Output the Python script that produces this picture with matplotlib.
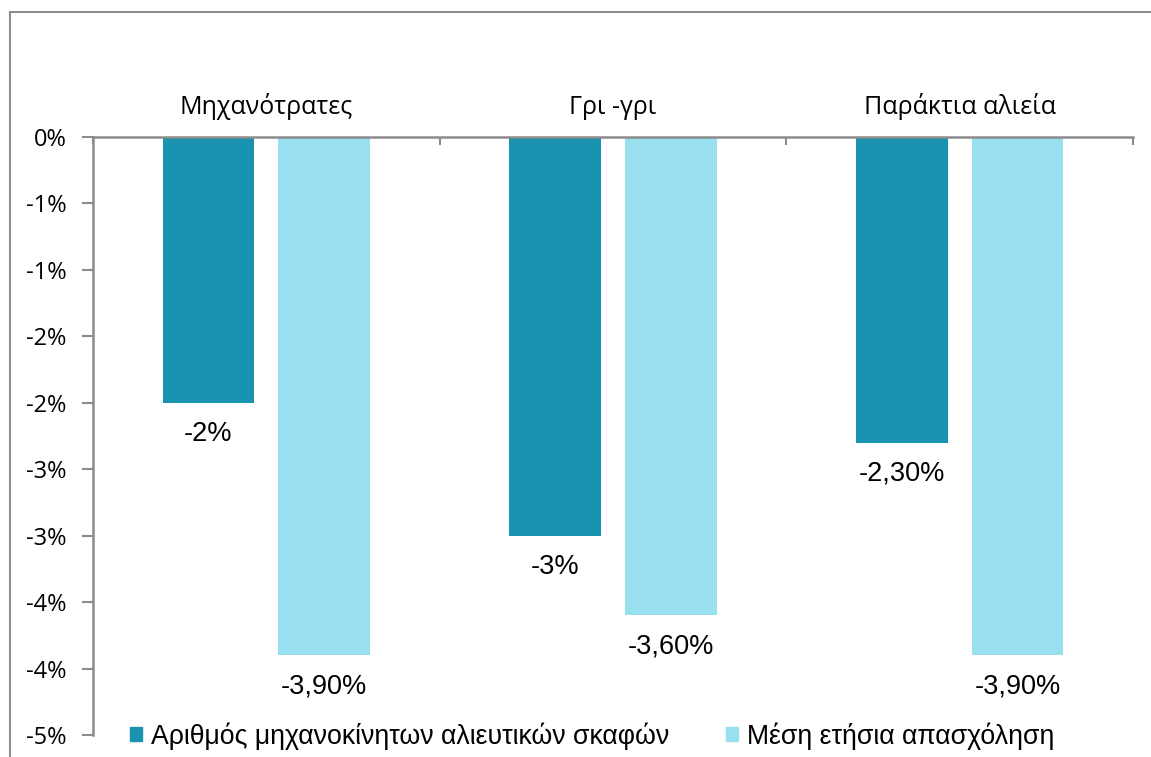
import matplotlib
matplotlib.use("Agg")
import matplotlib.pyplot as plt
import matplotlib.patches as mpatches
import numpy as np

categories = ["Μηχανότρατες", "Γρι -γρι", "Παράκτια αλιεία"]
series_names = ["Αριθμός μηχανοκίνητων αλιευτικών σκαφών", "Μέση ετήσια απασχόληση"]
vessels = [-2.0, -3.0, -2.3]
employment = [-3.9, -3.6, -3.9]
vessels_labels = ["-2%", "-3%", "-2,30%"]
employment_labels = ["-3,90%", "-3,60%", "-3,90%"]
yticks = [0, -0.5, -1.0, -1.5, -2.0, -2.5, -3.0, -3.5, -4.0, -4.5]
ytick_labels = ["0%", "-1%", "-1%", "-2%", "-2%", "-3%", "-3%", "-4%", "-4%", "-5%"]

c_dark = "#1a93b0"
c_light = "#98dff0"
axis_gray = "#8c8c8c"

fig = plt.figure(figsize=(11.51, 7.57), dpi=100)
W, H = 1151, 757
ax = fig.add_axes([93 / W, (H - 735) / H, 1040 / W, 598 / H])

x = np.arange(len(categories))
bw = 0.265
off = 0.167
b1 = ax.bar(x - off, vessels, bw, color=c_dark, zorder=2)
b2 = ax.bar(x + off, employment, bw, color=c_light, zorder=2)

lab_font = dict(family=["Liberation Sans", "DejaVu Sans"], size=19.5, color="black")
for rect, lab in zip(b1, vessels_labels):
    ax.annotate(lab, (rect.get_x() + rect.get_width() / 2, rect.get_height()),
                xytext=(0, -13), textcoords="offset points", ha="center", va="top", **lab_font)
for rect, lab in zip(b2, employment_labels):
    ax.annotate(lab, (rect.get_x() + rect.get_width() / 2, rect.get_height()),
                xytext=(0, -13), textcoords="offset points", ha="center", va="top", **lab_font)

ax.set_xlim(-0.5, 2.5)
ax.set_ylim(-4.5, 0)

# x axis at top (value 0)
ax.xaxis.set_ticks_position("top")
ax.set_xticks([-0.5, 0.5, 1.5, 2.5])
ax.set_xticklabels([])
ax.tick_params(axis="x", direction="in", length=6, width=1.5, color=axis_gray)
for i, cat in enumerate(categories):
    ax.annotate(cat, (i, 0), xytext=(0, 16.5), textcoords="offset points", ha="center",
                va="baseline", fontsize=18, family=["Open Sans", "DejaVu Sans"], color="black",
                annotation_clip=False)

ax.set_yticks(yticks)
ax.set_yticklabels(ytick_labels)
ax.tick_params(axis="y", direction="out", length=8, width=1.5, color=axis_gray, pad=11,
               labelsize=17)
for t in ax.get_yticklabels():
    t.set_family(["Open Sans", "DejaVu Sans"])

for s in ["bottom", "right"]:
    ax.spines[s].set_visible(False)
for s in ["top", "left"]:
    ax.spines[s].set_color(axis_gray)
    ax.spines[s].set_linewidth(1.8)
    ax.spines[s].set_zorder(3)

handles = [mpatches.Patch(color=c_dark, label=series_names[0]),
           mpatches.Patch(color=c_light, label=series_names[1])]
leg = fig.legend(handles=handles, loc="center left", bbox_to_anchor=(130 / W, (H - 736) / H),
                 ncol=2, frameon=False, handlelength=0.45, handleheight=0.45, handletextpad=0.35,
                 columnspacing=2.1, borderpad=0, borderaxespad=0,
                 prop=dict(family=["Liberation Sans", "DejaVu Sans"], size=19.2))

# outer frame
frame = mpatches.Rectangle((9.5 / W, -0.2), 1.5, (H - 12) / H + 0.2, transform=fig.transFigure,
                           fill=False, edgecolor=axis_gray, linewidth=1.5, clip_on=False)
fig.patches.append(frame)

fig.savefig("out.png", dpi=100)
